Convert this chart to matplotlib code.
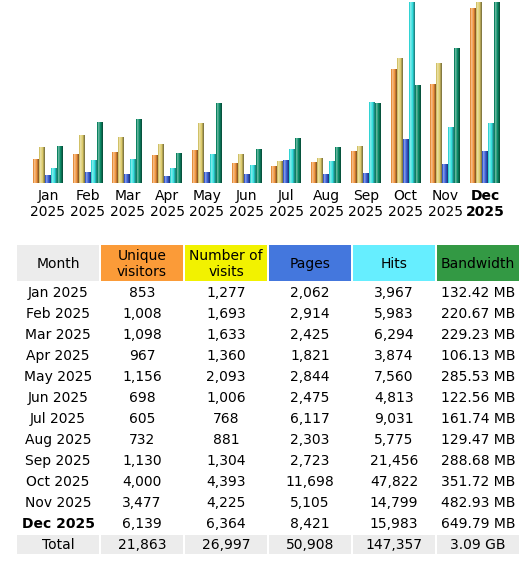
import matplotlib.pyplot as plt
from matplotlib.patches import Rectangle
from matplotlib.colors import to_rgb

months = ['Jan', 'Feb', 'Mar', 'Apr', 'May', 'Jun',
          'Jul', 'Aug', 'Sep', 'Oct', 'Nov', 'Dec']
year = '2025'
visitors = [853, 1008, 1098, 967, 1156, 698, 605, 732, 1130, 4000, 3477, 6139]
visits = [1277, 1693, 1633, 1360, 2093, 1006, 768, 881, 1304, 4393, 4225, 6364]
pages = [2062, 2914, 2425, 1821, 2844, 2475, 6117, 2303, 2723, 11698, 5105, 8421]
hits = [3967, 5983, 6294, 3874, 7560, 4813, 9031, 5775, 21456, 47822, 14799, 15983]
bandwidth_mb = [132.42, 220.67, 229.23, 106.13, 285.53, 122.56,
                161.74, 129.47, 288.68, 351.72, 482.93, 649.79]
total_row = ['Total', '21,863', '26,997', '50,908', '147,357', '3.09 GB']

headers = ['Month', 'Unique\nvisitors', 'Number of\nvisits', 'Pages', 'Hits', 'Bandwidth']
header_colors = ['#ececec', '#fb9b38', '#f2f200', '#4477dd', '#66eeff', '#339944']

# bar base colours: visitors, visits, pages, hits, bandwidth
bar_colors = ['#f09540', '#dccb6c', '#3b5fd6', '#35dede', '#0c8a66']
# 3d-ish shading across the width of each bar, left -> right
shade_profile = [0.95, 1.35, 1.2, 1.0, 0.8, 0.6]


def shade(color, f):
    r, g, b = to_rgb(color)
    if f >= 1:
        t = f - 1
        return (r + (1 - r) * t, g + (1 - g) * t, b + (1 - b) * t)
    return (r * f, g * f, b * f)


W, H = 523, 563
fig = plt.figure(figsize=(W / 100, H / 100), dpi=100)
plt.rcParams['font.family'] = ['DejaVu Sans']

# ---- bar chart ----
pitch = 39.73
first_center = 48
bar_top, bar_bottom = 2, 183
ax = fig.add_axes([0, (H - bar_bottom) / H, 1, (bar_bottom - bar_top) / H])
ax.set_xlim(-first_center / pitch, (W - first_center) / pitch)
ax.set_ylim(0, 1)

vmax = max(visits)
hmax = max(hits)
bmax = max(bandwidth_mb)
series = [
    [v / vmax for v in visitors],
    [v / vmax for v in visits],
    [p / hmax for p in pages],
    [h / hmax for h in hits],
    [b / bmax for b in bandwidth_mb],
]

bw = 6 / pitch
strip = bw / len(shade_profile)
for s, (vals, col) in enumerate(zip(series, bar_colors)):
    for i, v in enumerate(vals):
        left = i + (s - 2.5) * bw
        for k, f in enumerate(shade_profile):
            ax.bar(left + (k + 0.5) * strip, v, width=strip * 1.05,
                   color=shade(col, f), linewidth=0, antialiased=False)

ax.set_xticks(range(len(months)))
ax.set_xticklabels([m + '\n' + year for m in months], fontsize=10,
                   linespacing=1.2)
ax.get_xticklabels()[-1].set_fontweight('bold')
ax.tick_params(axis='x', length=0, pad=4.5)
ax.set_yticks([])
ax.set_frame_on(False)

# ---- table ----
tab = fig.add_axes([0, 0, 1, 1])
tab.set_xlim(0, W)
tab.set_ylim(H, 0)
tab.axis('off')

col_left = [17, 101, 185, 269, 353, 437]
col_w = 82
fs = 10

for j, (txt, c) in enumerate(zip(headers, header_colors)):
    tab.add_patch(Rectangle((col_left[j], 245), col_w, 36, color=c, linewidth=0))
    tab.text(col_left[j] + col_w / 2, 264, txt, ha='center', va='center',
             fontsize=fs, linespacing=1.2)

rows = []
for i, m in enumerate(months):
    rows.append([m + ' ' + year, f'{visitors[i]:,}', f'{visits[i]:,}',
                 f'{pages[i]:,}', f'{hits[i]:,}', f'{bandwidth_mb[i]:.2f} MB'])

for i, r in enumerate(rows):
    y = 293 + 21 * i
    for j, txt in enumerate(r):
        weight = 'bold' if (i == len(rows) - 1 and j == 0) else 'normal'
        tab.text(col_left[j] + col_w / 2, y, txt, ha='center', va='center',
                 fontsize=fs, fontweight=weight)

for j, txt in enumerate(total_row):
    tab.add_patch(Rectangle((col_left[j], 535), col_w, 19, color='#ececec', linewidth=0))
    tab.text(col_left[j] + col_w / 2, 545, txt, ha='center', va='center', fontsize=fs)

fig.savefig('out.png', dpi=100)
